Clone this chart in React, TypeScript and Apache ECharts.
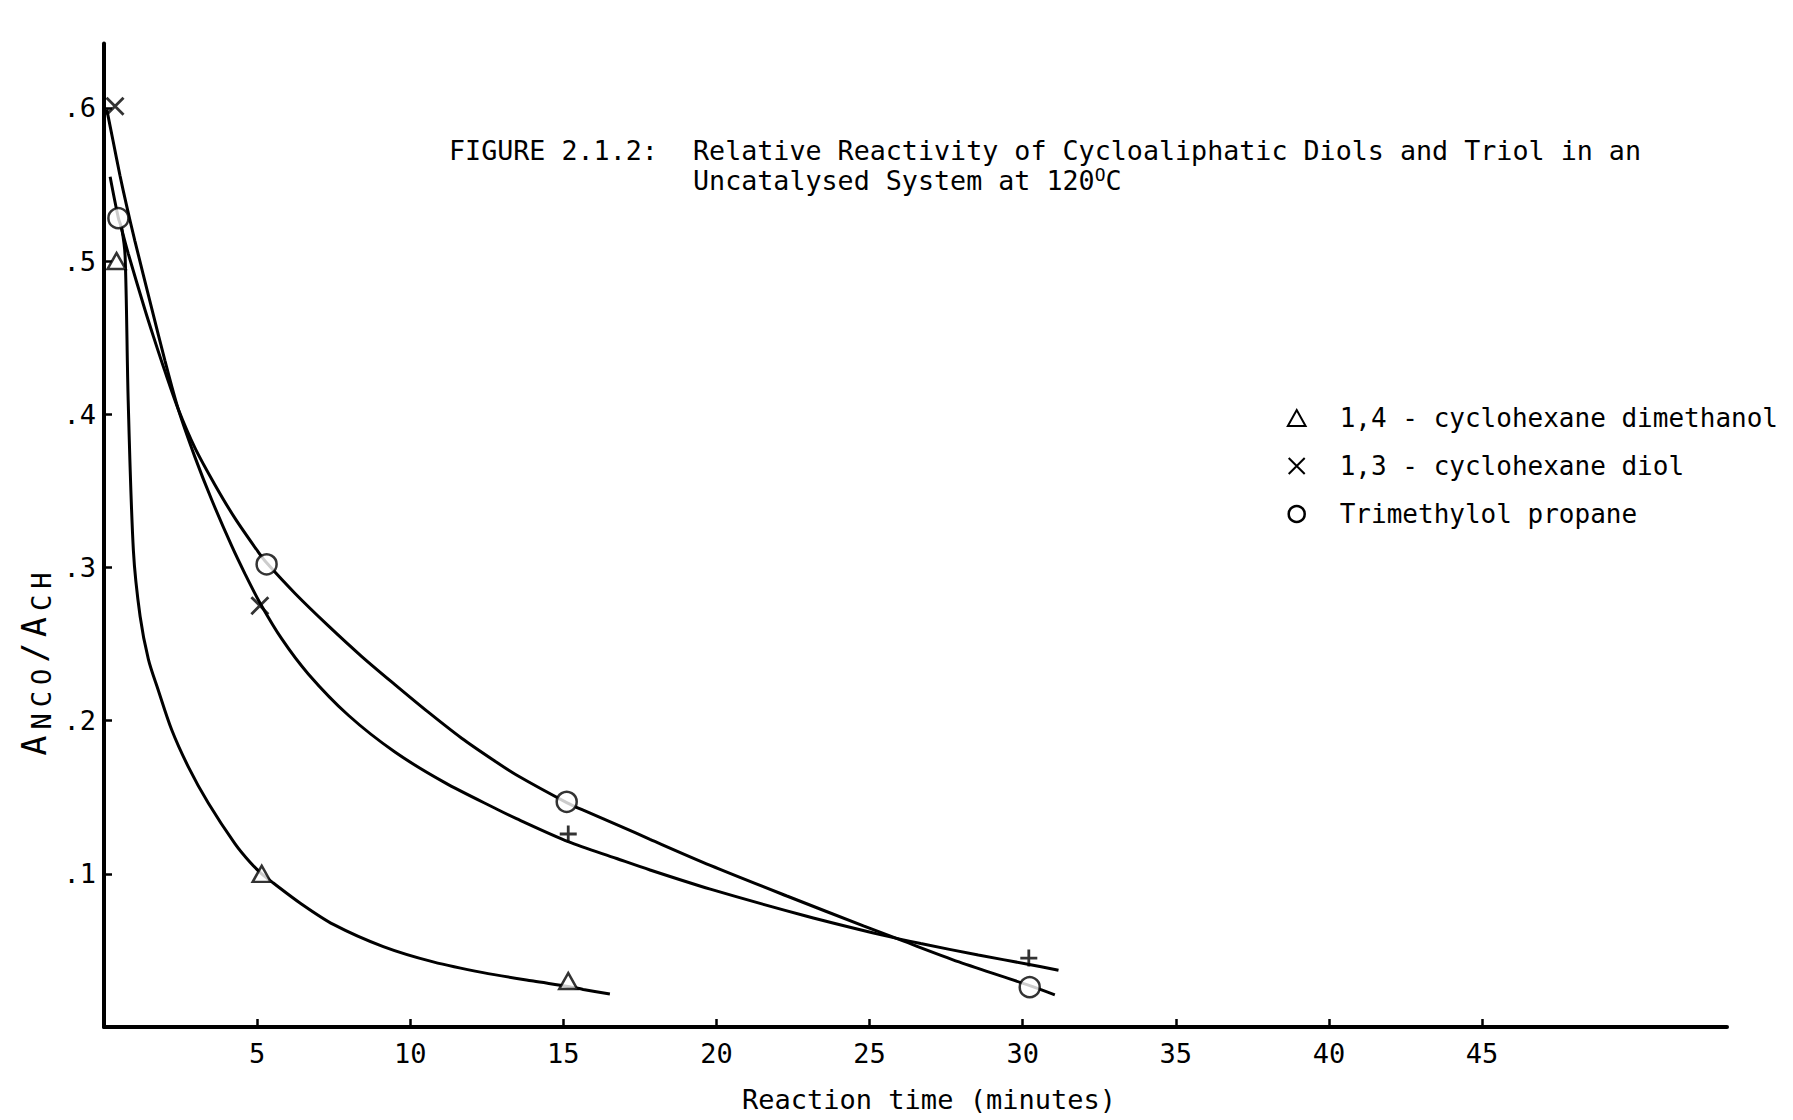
import React, { useEffect, useRef } from "react";
import * as echarts from "echarts";

const FONT = '"DejaVu Sans Mono", monospace';

const seriesNames = [
  "1,4 - cyclohexane dimethanol",
  "1,3 - cyclohexane diol",
  "Trimethylol propane",
];

const xTickValues = [5, 10, 15, 20, 25, 30, 35, 40, 45];
const yTickValues = [0.1, 0.2, 0.3, 0.4, 0.5, 0.6];

// measured points (markers)
const dimethanolT = [0.41, 5.15, 15.16];
const dimethanolV = [0.5, 0.1, 0.03];
const diolT = [0.36, 5.09, 15.16, 30.2];
const diolV = [0.601, 0.275, 0.126, 0.045];
const triolT = [0.47, 5.31, 15.11, 30.23];
const triolV = [0.528, 0.302, 0.147, 0.026];

// hand-drawn curves
const dimethanolCurveT = [0.2, 0.47, 0.58, 0.69, 0.79, 0.96, 1.18, 1.45, 1.77, 2.21, 2.75, 3.41, 4.28, 4.77, 5.15, 5.53, 6.4, 7.49, 9.12, 10.75, 12.38, 14.02, 15.15, 15.65, 16.52];
const dimethanolCurveV = [0.555, 0.528, 0.521, 0.503, 0.409, 0.311, 0.268, 0.24, 0.22, 0.194, 0.17, 0.146, 0.1195, 0.1075, 0.1, 0.094, 0.081, 0.067, 0.0525, 0.0425, 0.0355, 0.03, 0.0265, 0.0245, 0.0215];

const diolCurveT = [0.09, 0.3, 0.52, 0.74, 1.01, 1.56, 1.99, 2.43, 2.97, 3.52, 4.17, 4.6, 5.09, 5.8, 6.67, 7.98, 9.5, 11.13, 12.85, 13.47, 15.16, 16.74, 17.83, 19.8, 22.92, 25.42, 26.67, 28.55, 30.17, 31.17];
const diolCurveV = [0.599, 0.578, 0.556, 0.536, 0.513, 0.469, 0.435, 0.403, 0.372, 0.344, 0.314, 0.296, 0.277, 0.2535, 0.2305, 0.2035, 0.1795, 0.1595, 0.142, 0.136, 0.121, 0.11, 0.1025, 0.09, 0.0725, 0.06, 0.0545, 0.047, 0.041, 0.037];

const triolCurveT = [0.55, 0.79, 1.34, 1.61, 1.99, 2.43, 2.97, 3.62, 4.28, 5.04, 5.31, 6.24, 7.32, 8.41, 9.5, 10.59, 11.68, 12.77, 13.47, 15.11, 15.65, 16.93, 17.83, 19.8, 22.3, 24.8, 26.05, 27.92, 30.23, 31.05];
const triolCurveV = [0.523, 0.505, 0.468, 0.451, 0.428, 0.403, 0.378, 0.354, 0.332, 0.31, 0.303, 0.283, 0.262, 0.242, 0.2235, 0.2055, 0.1885, 0.1735, 0.1645, 0.1465, 0.1415, 0.1305, 0.1225, 0.1055, 0.0855, 0.066, 0.0565, 0.0425, 0.027, 0.021];

const CROSS = "path://M0,0L10,10M10,0L0,10";
const PLUS = "path://M5,0L5,10M0,5L10,5";
const TRIANGLE = "path://M5,0L10,9L0,9Z";

const zip = (a: number[], b: number[]) => a.map((v, i) => [v, b[i]]);

export default function App() {
  const ref = useRef<HTMLDivElement>(null);
  useEffect(() => {
    const chart = echarts.init(ref.current!, null, { renderer: "svg" });
    const lineSeries = (name: string, t: number[], v: number[]) => ({
      name,
      type: "line",
      data: zip(t, v),
      symbol: "none",
      smooth: 0.3,
      lineStyle: { color: "#000", width: 3 },
      itemStyle: { color: "#000" },
      z: 2,
      silent: true,
    });
    const markerStyle = { color: "#fff", borderColor: "#000", borderWidth: 2.5 };
    chart.setOption({
      animation: false,
      backgroundColor: "#fff",
      grid: { left: 104, right: 66, top: 43.5, bottom: 93, containLabel: false },
      xAxis: {
        type: "value",
        min: 0,
        max: 53,
        interval: 5,
        axisLine: { lineStyle: { color: "#000", width: 4 } },
        axisTick: { inside: true, length: 8, lineStyle: { color: "#000", width: 2.5 }, customValues: xTickValues },
        axisLabel: { customValues: xTickValues, color: "#000", fontFamily: FONT, fontSize: 27, margin: 13 },
        splitLine: { show: false },
        name: "Reaction time (minutes)",
        nameLocation: "middle",
        nameGap: 59,
        nameTextStyle: { color: "#000", fontFamily: FONT, fontSize: 27, padding: [0, 0, 0, 27] },
      },
      yAxis: {
        type: "value",
        min: 0,
        max: 0.642,
        axisLine: { lineStyle: { color: "#000", width: 4 } },
        axisTick: { inside: true, length: 8, lineStyle: { color: "#000", width: 2.5 }, customValues: yTickValues },
        axisLabel: {
          customValues: yTickValues,
          color: "#000",
          fontFamily: FONT,
          fontSize: 27,
          margin: 8,
          formatter: (v: number) => "." + Math.round(v * 10),
        },
        splitLine: { show: false },
      },
      legend: {
        orient: "vertical",
        right: 10,
        top: 398,
        itemWidth: 76,
        itemHeight: 16,
        itemGap: 18,
        selectedMode: false,
        textStyle: { color: "#000", fontFamily: FONT, fontSize: 26, lineHeight: 30 },
        data: [
          { name: seriesNames[0], icon: TRIANGLE, itemStyle: { color: "#fff", borderColor: "#000", borderWidth: 2 } },
          { name: seriesNames[1], icon: CROSS, itemStyle: { color: "none", borderColor: "#000", borderWidth: 2 } },
          { name: seriesNames[2], icon: "circle", itemStyle: { color: "#fff", borderColor: "#000", borderWidth: 2.5 } },
        ],
      },
      graphic: [
        {
          type: "text",
          x: 449,
          y: 150,
          silent: true,
          style: { text: "FIGURE 2.1.2:", fontFamily: FONT, fontSize: 26.7, fill: "#000", textVerticalAlign: "middle", verticalAlign: "middle" },
        },
        {
          type: "text",
          x: 693,
          y: 150,
          silent: true,
          style: {
            text: "Relative Reactivity of Cycloaliphatic Diols and Triol in an",
            fontFamily: FONT,
            fontSize: 26.7,
            fill: "#000",
            textVerticalAlign: "middle",
            verticalAlign: "middle",
          },
        },
        {
          type: "text",
          x: 693,
          y: 180,
          silent: true,
          style: {
            text: "{n|Uncatalysed System at 120}{s|O}{n|C}",
            textVerticalAlign: "middle",
            verticalAlign: "middle",
            rich: {
              n: { fontFamily: FONT, fontSize: 26.7, fill: "#000", lineHeight: 30 },
              s: { fontFamily: FONT, fontSize: 18, fill: "#000", lineHeight: 18, verticalAlign: "top" },
            },
          },
        },
        {
          type: "text",
          x: 34,
          y: 664,
          rotation: Math.PI / 2,
          silent: true,
          style: {
            text: "{a|A}{s|N}{s|C}{s|O}{a|/}{a|A}{s|C}{s|H}",
            textAlign: "center",
            align: "center",
            textVerticalAlign: "middle",
            verticalAlign: "middle",
            rich: {
              a: { fontFamily: FONT, fontSize: 33, fill: "#000", lineHeight: 42, padding: [0, 3, 0, 3] },
              s: { fontFamily: FONT, fontSize: 27, fill: "#000", lineHeight: 27, verticalAlign: "bottom", padding: [0, 3, 0, 3] },
            },
          },
        },
      ],
      series: [
        lineSeries(seriesNames[0], dimethanolCurveT, dimethanolCurveV),
        lineSeries(seriesNames[1], diolCurveT, diolCurveV),
        lineSeries(seriesNames[2], triolCurveT, triolCurveV),
        {
          name: seriesNames[0],
          type: "scatter",
          data: zip(dimethanolT, dimethanolV),
          symbol: TRIANGLE,
          symbolSize: [18, 16],
          itemStyle: markerStyle,
          z: 3,
          silent: true,
        },
        {
          name: seriesNames[1],
          type: "scatter",
          data: zip(diolT, diolV).map((p, i) => ({ value: p, symbol: i < 2 ? CROSS : PLUS })),
          symbolSize: 17,
          itemStyle: { color: "none", borderColor: "#000", borderWidth: 2.8 },
          z: 3,
          silent: true,
        },
        {
          name: seriesNames[2],
          type: "scatter",
          data: zip(triolT, triolV),
          symbol: "circle",
          symbolSize: 20,
          itemStyle: markerStyle,
          z: 3,
          silent: true,
        },
      ],
    });
    return () => chart.dispose();
  }, []);
  return (
    <div
      ref={ref}
      style={{ position: "fixed", left: 0, top: 0, width: 1793, height: 1120, background: "#fff" }}
    />
  );
}
